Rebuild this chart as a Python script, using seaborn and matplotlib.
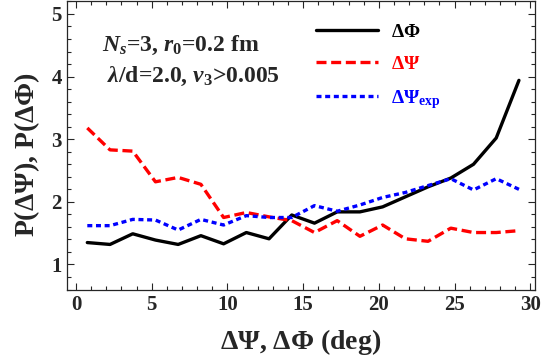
import numpy as np
import pandas as pd
import matplotlib
matplotlib.use("Agg")
import matplotlib.pyplot as plt
import seaborn as sns
from matplotlib.ticker import MultipleLocator

# ----- data -----
angle = [0.75, 2.25, 3.75, 5.25, 6.75, 8.25, 9.75, 11.25, 12.75, 14.25,
         15.75, 17.25, 18.75, 20.25, 21.75, 23.25, 24.75, 26.25, 27.75, 29.25]
p_phi = [1.35, 1.32, 1.49, 1.39, 1.32, 1.46, 1.33, 1.51, 1.41, 1.79,
         1.66, 1.84, 1.84, 1.92, 2.08, 2.24, 2.38, 2.60, 3.02, 3.94]
p_psi = [3.18, 2.83, 2.81, 2.32, 2.39, 2.28, 1.75, 1.83, 1.76, 1.70,
         1.51, 1.70, 1.45, 1.63, 1.41, 1.37, 1.58, 1.51, 1.51, 1.54]
p_psi_exp = [1.62, 1.62, 1.72, 1.71, 1.55, 1.72, 1.63, 1.78, 1.75, 1.75,
             1.94, 1.85, 1.95, 2.07, 2.15, 2.26, 2.37, 2.19, 2.37, 2.20]

df = pd.DataFrame({"angle": angle, "phi": p_phi, "psi": p_psi, "psi_exp": p_psi_exp})

sns.set_style("ticks")
plt.rcParams['font.family'] = ['Liberation Serif', 'DejaVu Serif']
plt.rcParams['font.weight'] = 'bold'
plt.rcParams['mathtext.fontset'] = 'custom'
plt.rcParams['mathtext.rm'] = 'Liberation Serif:bold'
plt.rcParams['mathtext.it'] = 'Liberation Serif:italic:bold'
plt.rcParams['mathtext.bf'] = 'Liberation Serif:bold'

fig = plt.figure(figsize=(5.48, 3.6), dpi=100)
ax = fig.add_axes([0.122, 0.194, 0.854, 0.802])

sns.lineplot(data=df, x="angle", y="phi", ax=ax, color="black", lw=2.4, label=r"$\Delta\Phi$")
sns.lineplot(data=df, x="angle", y="psi", ax=ax, color="red", lw=2.4, label=r"$\Delta\Psi$")
sns.lineplot(data=df, x="angle", y="psi_exp", ax=ax, color="blue", lw=2.4, label=r"$\Delta\Psi_{\rm exp}$")
ax.lines[1].set_dashes([3.0, 1.4])
ax.lines[2].set_dashes([1.5, 1.1])

ax.set_xlim(-0.6, 30.3)
ax.set_ylim(0.59, 5.2)
ax.xaxis.set_major_locator(MultipleLocator(5))
ax.xaxis.set_minor_locator(MultipleLocator(1))
ax.yaxis.set_major_locator(MultipleLocator(1))
ax.yaxis.set_minor_locator(MultipleLocator(0.2))
ax.tick_params(which='both', direction='in', top=True, right=True, width=0.8, labelsize=15)
ax.tick_params(which='major', length=5)
ax.tick_params(which='minor', length=3)
for lab in ax.get_xticklabels() + ax.get_yticklabels():
    lab.set_fontweight('bold')
for s in ax.spines.values():
    s.set_linewidth(0.9)

ax.set_xlabel(r"$\Delta\Psi$, $\Delta\Phi$ (deg)", fontsize=20, fontweight='bold')
ax.set_ylabel(r"P($\Delta\Psi$), P($\Delta\Phi$)", fontsize=20, fontweight='bold')
ax.xaxis.set_label_coords(0.5, -0.128)
ax.yaxis.set_label_coords(-0.053, 0.47)

ax.text(0.076, 0.828, r"$N_s$=3, $r_0$=0.2 fm", transform=ax.transAxes, fontsize=17, fontweight='bold')
ax.text(0.085, 0.72, r"$\lambda$/d=2.0, $v_3$>0.005", transform=ax.transAxes, fontsize=17, fontweight='bold')

leg = ax.legend(loc='upper left', bbox_to_anchor=(0.494, 0.985), frameon=False, fontsize=14,
                handlelength=3.2, labelspacing=0.75, handletextpad=0.7)
for txt, c in zip(leg.get_texts(), ["black", "red", "blue"]):
    txt.set_color(c)

fig.savefig("out.png", dpi=100)
